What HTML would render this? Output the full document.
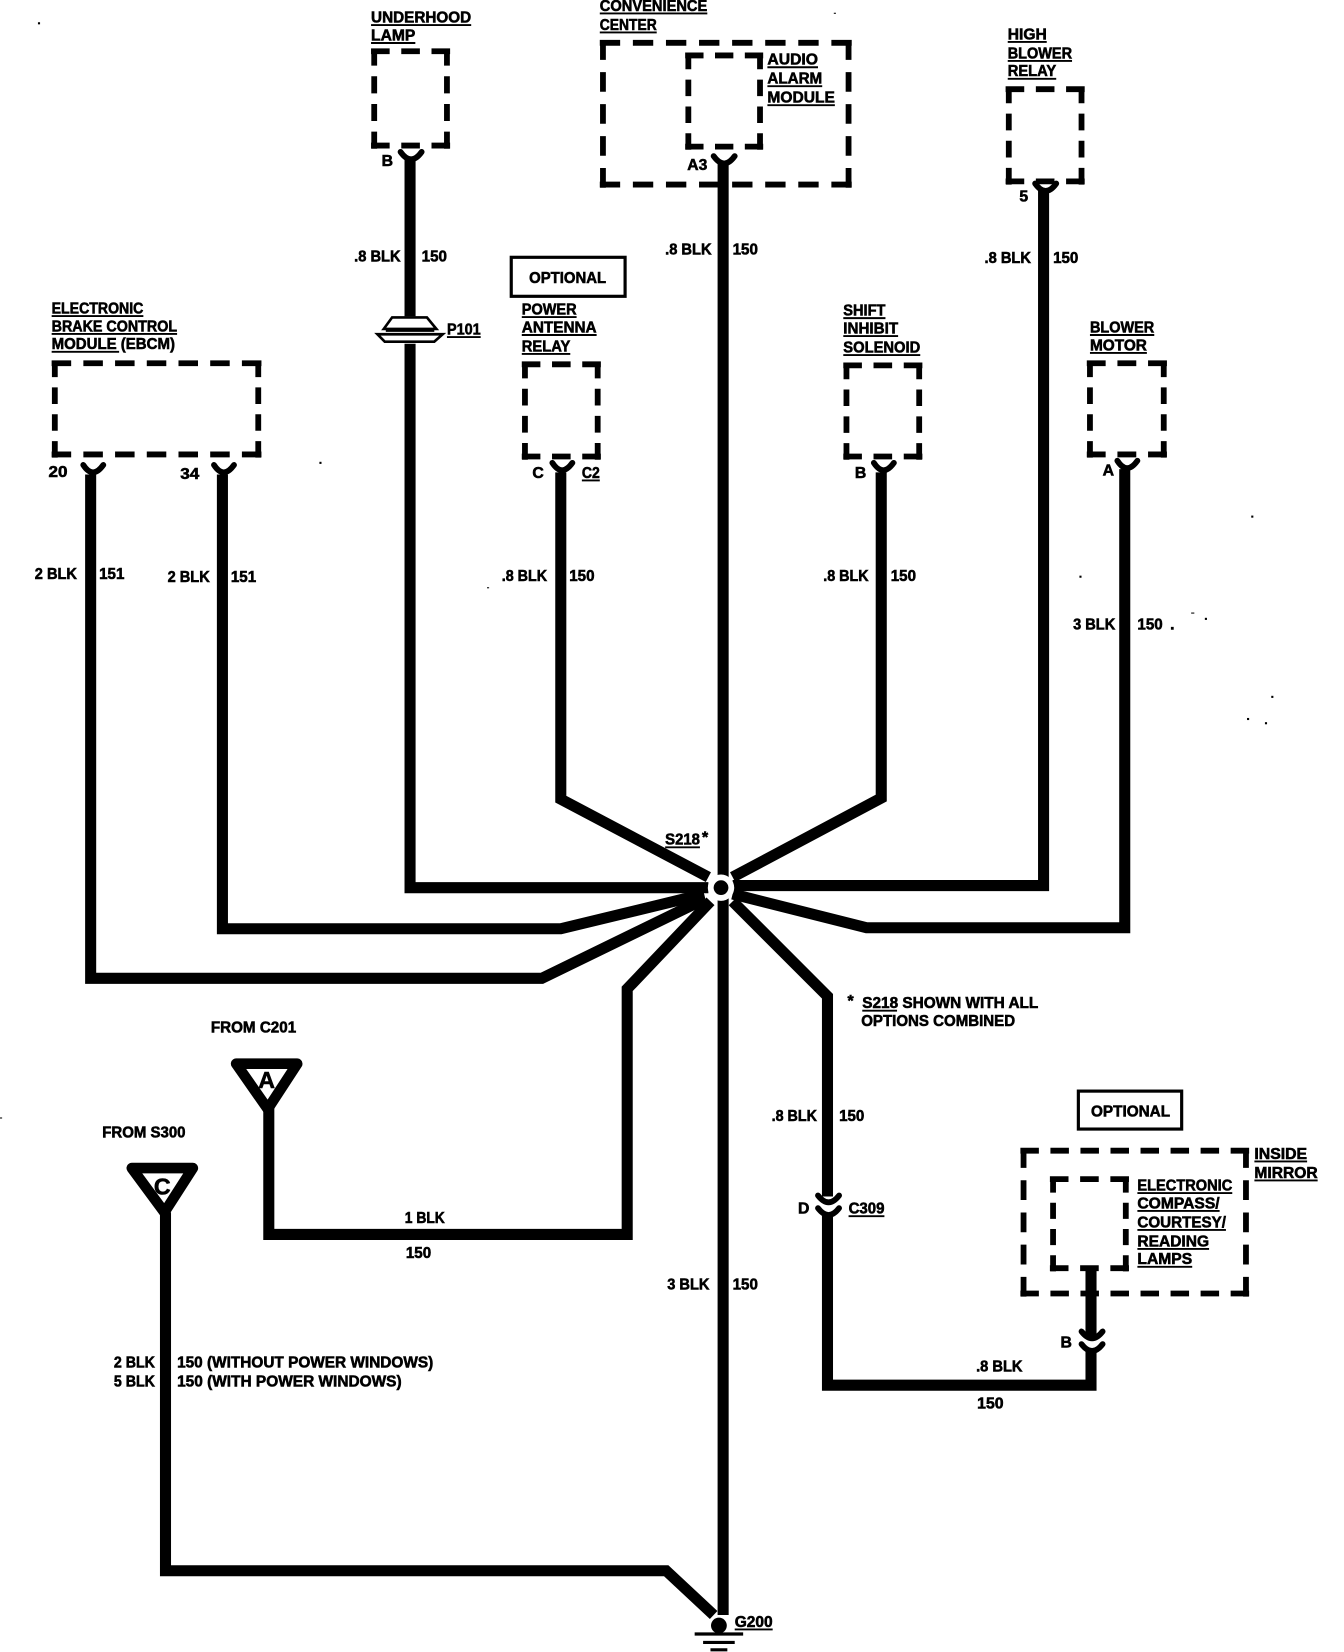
<!DOCTYPE html>
<html><head><meta charset="utf-8"><title>Ground distribution diagram</title>
<style>
html,body{margin:0;padding:0;background:#fff;width:1344px;height:1652px;overflow:hidden}
svg{display:block}
text{font-family:"Liberation Sans",sans-serif;font-weight:bold;font-size:15px;fill:#000;stroke:#000;stroke-width:.55}
.w{fill:none;stroke:#000;stroke-width:10.5;stroke-linejoin:miter}
.c{fill:none;stroke:#000;stroke-width:5.5;stroke-linecap:round}
.d{fill:none;stroke:#000;stroke-width:5.5;stroke-dasharray:1.6 1}
.u{fill:none;stroke:#000;stroke-width:1.8}
</style></head><body>
<svg xmlns="http://www.w3.org/2000/svg" width="1344" height="1652" viewBox="0 0 1275 1567">
<rect width="1275" height="1567" fill="#fff"/>
<!-- wires -->
<path class="w" d="M389,150V842H672"/>
<path class="w" d="M686,155V1532"/>
<path class="w" d="M990,180V840H695"/>
<path class="w" d="M532,448V758L672,832"/>
<path class="w" d="M836,448V757L695,832"/>
<path class="w" d="M211,450V881H532L668,848"/>
<path class="w" d="M86,450V928H514L668,853"/>
<path class="w" d="M1067,445V880H822L695,848"/>
<path class="w" d="M255,1050V1171H595V938L674,855"/>
<path class="w" d="M695,855L785,945V1135"/>
<path class="w" d="M785,1150V1314H1035V1282"/>
<path class="w" d="M157,1150V1490H632L677,1532"/>
<path class="w" d="M1035,1205V1268"/>
<!-- S218 junction -->
<circle cx="684" cy="842" r="12.5" fill="#fff"/>
<circle cx="684" cy="842" r="7" fill="#000"/>
<!-- connector cups -->
<path class="c" d="M380,144Q390,158 400,144M677,148Q687,162 697,148M982,174Q992,188 1002,174M79,441Q88,455 98,441M203,441Q212,455 222,441M524,439Q533,453 543,439M829,439Q838,453 848,439M1060,437Q1069,451 1079,437"/>
<path class="c" d="M776,1134Q786,1147 796,1134M776,1146Q786,1159 796,1146M1026,1263Q1036,1276 1046,1263M1026,1275Q1036,1288 1046,1275"/>
<!-- dashed boxes -->
<g>
<line class="d" pathLength="6.8" x1="352" y1="48.500" x2="427" y2="48.500"/><line class="d" pathLength="6.8" x1="352" y1="138" x2="427" y2="138"/><line class="d" pathLength="9.4" x1="355" y1="46" x2="355" y2="141"/><line class="d" pathLength="9.4" x1="424" y1="46" x2="424" y2="141"/>
<line class="d" pathLength="19.8" x1="569" y1="40.500" x2="808" y2="40.500"/><line class="d" pathLength="19.8" x1="569" y1="175" x2="808" y2="175"/><line class="d" pathLength="12" x1="572" y1="38" x2="572" y2="178"/><line class="d" pathLength="12" x1="805" y1="38" x2="805" y2="178"/>
<line class="d" pathLength="6.8" x1="650" y1="52.500" x2="724" y2="52.500"/><line class="d" pathLength="6.8" x1="650" y1="139" x2="724" y2="139"/><line class="d" pathLength="9.4" x1="653" y1="50" x2="653" y2="142"/><line class="d" pathLength="9.4" x1="721" y1="50" x2="721" y2="142"/>
<line class="d" pathLength="6.8" x1="954" y1="84.500" x2="1029" y2="84.500"/><line class="d" pathLength="6.8" x1="954" y1="172" x2="1029" y2="172"/><line class="d" pathLength="9.4" x1="957" y1="82" x2="957" y2="175"/><line class="d" pathLength="9.4" x1="1026" y1="82" x2="1026" y2="175"/>
<line class="d" pathLength="17.2" x1="49" y1="344.500" x2="248" y2="344.500"/><line class="d" pathLength="17.2" x1="49" y1="431" x2="248" y2="431"/><line class="d" pathLength="9.4" x1="52" y1="342" x2="52" y2="434"/><line class="d" pathLength="9.4" x1="245" y1="342" x2="245" y2="434"/>
<line class="d" pathLength="6.8" x1="495" y1="345.500" x2="570" y2="345.500"/><line class="d" pathLength="6.8" x1="495" y1="433" x2="570" y2="433"/><line class="d" pathLength="9.4" x1="498" y1="343" x2="498" y2="436"/><line class="d" pathLength="9.4" x1="567" y1="343" x2="567" y2="436"/>
<line class="d" pathLength="6.8" x1="800" y1="346.500" x2="875" y2="346.500"/><line class="d" pathLength="6.8" x1="800" y1="433" x2="875" y2="433"/><line class="d" pathLength="9.4" x1="803" y1="344" x2="803" y2="436"/><line class="d" pathLength="9.4" x1="872" y1="344" x2="872" y2="436"/>
<line class="d" pathLength="6.8" x1="1031" y1="344.500" x2="1107" y2="344.500"/><line class="d" pathLength="6.8" x1="1031" y1="431" x2="1107" y2="431"/><line class="d" pathLength="9.4" x1="1034" y1="342" x2="1034" y2="434"/><line class="d" pathLength="9.4" x1="1104" y1="342" x2="1104" y2="434"/>
<line class="d" pathLength="19.8" x1="968" y1="1091.500" x2="1185" y2="1091.500"/><line class="d" pathLength="19.8" x1="968" y1="1227" x2="1185" y2="1227"/><line class="d" pathLength="12" x1="971" y1="1089" x2="971" y2="1230"/><line class="d" pathLength="12" x1="1182" y1="1089" x2="1182" y2="1230"/>
<line class="d" pathLength="6.8" x1="996" y1="1118.500" x2="1071" y2="1118.500"/><line class="d" pathLength="6.8" x1="996" y1="1203" x2="1071" y2="1203"/><line class="d" pathLength="9.4" x1="999" y1="1116" x2="999" y2="1206"/><line class="d" pathLength="9.4" x1="1068" y1="1116" x2="1068" y2="1206"/>
</g>
<!-- optional boxes -->
<rect x="485" y="244" width="108" height="37" fill="none" stroke="#000" stroke-width="3"/>
<rect x="1023" y="1035" width="98" height="36" fill="none" stroke="#000" stroke-width="3"/>
<!-- P101 -->
<rect x="355" y="300" width="68" height="26" fill="#fff"/>
<path d="M364,312L372,301H405L414,312Z" fill="#fff" stroke="#000" stroke-width="2.5"/>
<path d="M358,317H420L412,324H365Z" fill="#fff" stroke="#000" stroke-width="2.5"/>
<path d="M366,313.500H412" stroke="#000" stroke-width="2.5" fill="none"/>
<!-- triangles -->
<path d="M224,1009H282L254,1052Z" fill="#fff" stroke="#000" stroke-width="10" stroke-linejoin="round"/>
<path d="M125,1108H183L156,1150Z" fill="#fff" stroke="#000" stroke-width="10" stroke-linejoin="round"/>
<!-- ground -->
<circle cx="682" cy="1543" r="10" fill="#fff"/>
<circle cx="682" cy="1542" r="7.500" fill="#000"/>
<path d="M659,1550H705M667,1558H697M674,1565H690" stroke="#000" stroke-width="3" fill="none"/>
<g transform="translate(0,-0.8)">
<!-- underlines -->
<path class="u" d="M352,24.500h95M352,41.500h42M569,13.500h102M569,31.500h54M728,64.500h48M728,82.500h52M728,100.500h64M956,40.500h37M956,58.500h61M956,75.500h46M49,300.500h87M49,317.500h119M49,334.500h64M495,301.500h52M495,318.500h71M495,336.500h46M800,302.500h40M800,319.500h52M800,337.500h73M1034,318.500h61M1034,335.500h54M552,456.500h17M424,320.500h32M631,804.500h33M818,959.500h33M805,1154.500h34M1190,1102.500h50M1190,1120.500h60M1079,1132.500h90M1079,1149.500h78M1079,1167.500h84M1079,1185.500h68M1079,1202.500h52M697,1546.500h36"/>
<!-- labels -->
<text x="352" y="22" textLength="95" lengthAdjust="spacingAndGlyphs">UNDERHOOD</text>
<text x="352" y="39" textLength="42" lengthAdjust="spacingAndGlyphs">LAMP</text>
<text x="569" y="11" textLength="102" lengthAdjust="spacingAndGlyphs">CONVENIENCE</text>
<text x="569" y="29" textLength="54" lengthAdjust="spacingAndGlyphs">CENTER</text>
<text x="728" y="62" textLength="48" lengthAdjust="spacingAndGlyphs">AUDIO</text>
<text x="728" y="80" textLength="52" lengthAdjust="spacingAndGlyphs">ALARM</text>
<text x="728" y="98" textLength="64" lengthAdjust="spacingAndGlyphs">MODULE</text>
<text x="956" y="38" textLength="37" lengthAdjust="spacingAndGlyphs">HIGH</text>
<text x="956" y="56" textLength="61" lengthAdjust="spacingAndGlyphs">BLOWER</text>
<text x="956" y="73" textLength="46" lengthAdjust="spacingAndGlyphs">RELAY</text>
<text x="49" y="298" textLength="87" lengthAdjust="spacingAndGlyphs">ELECTRONIC</text>
<text x="49" y="315" textLength="119" lengthAdjust="spacingAndGlyphs">BRAKE CONTROL</text>
<text x="49" y="332" textLength="117" lengthAdjust="spacingAndGlyphs">MODULE (EBCM)</text>
<text x="502" y="269" textLength="73" lengthAdjust="spacingAndGlyphs">OPTIONAL</text>
<text x="495" y="299" textLength="52" lengthAdjust="spacingAndGlyphs">POWER</text>
<text x="495" y="316" textLength="71" lengthAdjust="spacingAndGlyphs">ANTENNA</text>
<text x="495" y="334" textLength="46" lengthAdjust="spacingAndGlyphs">RELAY</text>
<text x="800" y="300" textLength="40" lengthAdjust="spacingAndGlyphs">SHIFT</text>
<text x="800" y="317" textLength="52" lengthAdjust="spacingAndGlyphs">INHIBIT</text>
<text x="800" y="335" textLength="73" lengthAdjust="spacingAndGlyphs">SOLENOID</text>
<text x="1034" y="316" textLength="61" lengthAdjust="spacingAndGlyphs">BLOWER</text>
<text x="1034" y="333" textLength="54" lengthAdjust="spacingAndGlyphs">MOTOR</text>
<text x="362" y="158">B</text>
<text x="652" y="162" textLength="19" lengthAdjust="spacingAndGlyphs">A3</text>
<text x="967" y="192">5</text>
<text x="46" y="453" textLength="18" lengthAdjust="spacingAndGlyphs">20</text>
<text x="171" y="455" textLength="18" lengthAdjust="spacingAndGlyphs">34</text>
<text x="505" y="454">C</text>
<text x="552" y="454" textLength="17" lengthAdjust="spacingAndGlyphs">C2</text>
<text x="811" y="454">B</text>
<text x="1046" y="452">A</text>
<text x="336" y="249" textLength="44" lengthAdjust="spacingAndGlyphs">.8 BLK</text>
<text x="400" y="249" textLength="24" lengthAdjust="spacingAndGlyphs">150</text>
<text x="631" y="242" textLength="44" lengthAdjust="spacingAndGlyphs">.8 BLK</text>
<text x="695" y="242" textLength="24" lengthAdjust="spacingAndGlyphs">150</text>
<text x="934" y="250" textLength="44" lengthAdjust="spacingAndGlyphs">.8 BLK</text>
<text x="999" y="250" textLength="24" lengthAdjust="spacingAndGlyphs">150</text>
<text x="424" y="318" textLength="32" lengthAdjust="spacingAndGlyphs">P101</text>
<text x="33" y="550" textLength="40" lengthAdjust="spacingAndGlyphs">2 BLK</text>
<text x="94" y="550" textLength="24" lengthAdjust="spacingAndGlyphs">151</text>
<text x="159" y="553" textLength="40" lengthAdjust="spacingAndGlyphs">2 BLK</text>
<text x="219" y="553" textLength="24" lengthAdjust="spacingAndGlyphs">151</text>
<text x="476" y="552" textLength="43" lengthAdjust="spacingAndGlyphs">.8 BLK</text>
<text x="540" y="552" textLength="24" lengthAdjust="spacingAndGlyphs">150</text>
<text x="781" y="552" textLength="43" lengthAdjust="spacingAndGlyphs">.8 BLK</text>
<text x="845" y="552" textLength="24" lengthAdjust="spacingAndGlyphs">150</text>
<text x="1018" y="598" textLength="40" lengthAdjust="spacingAndGlyphs">3 BLK</text>
<text x="1079" y="598" textLength="24" lengthAdjust="spacingAndGlyphs">150</text>
<text x="1110" y="598">.</text>
<text x="631" y="802" textLength="33" lengthAdjust="spacingAndGlyphs">S218</text>
<text x="666" y="800">*</text>
<text x="804" y="955">*</text>
<text x="818" y="957" textLength="167" lengthAdjust="spacingAndGlyphs">S218 SHOWN WITH ALL</text>
<text x="817" y="974" textLength="146" lengthAdjust="spacingAndGlyphs">OPTIONS COMBINED</text>
<text x="200" y="980" textLength="81" lengthAdjust="spacingAndGlyphs">FROM C201</text>
<text x="97" y="1080" textLength="79" lengthAdjust="spacingAndGlyphs">FROM S300</text>
<text x="245" y="1033" style="font-size:22px">A</text>
<text x="146" y="1134" style="font-size:22px">C</text>
<text x="384" y="1161" textLength="38" lengthAdjust="spacingAndGlyphs">1 BLK</text>
<text x="385" y="1194" textLength="24" lengthAdjust="spacingAndGlyphs">150</text>
<text x="732" y="1064" textLength="43" lengthAdjust="spacingAndGlyphs">.8 BLK</text>
<text x="796" y="1064" textLength="24" lengthAdjust="spacingAndGlyphs">150</text>
<text x="757" y="1152">D</text>
<text x="805" y="1152" textLength="34" lengthAdjust="spacingAndGlyphs">C309</text>
<text x="1035" y="1060" textLength="75" lengthAdjust="spacingAndGlyphs">OPTIONAL</text>
<text x="1190" y="1100" textLength="50" lengthAdjust="spacingAndGlyphs">INSIDE</text>
<text x="1190" y="1118" textLength="60" lengthAdjust="spacingAndGlyphs">MIRROR</text>
<text x="1079" y="1130" textLength="90" lengthAdjust="spacingAndGlyphs">ELECTRONIC</text>
<text x="1079" y="1147" textLength="78" lengthAdjust="spacingAndGlyphs">COMPASS/</text>
<text x="1079" y="1165" textLength="84" lengthAdjust="spacingAndGlyphs">COURTESY/</text>
<text x="1079" y="1183" textLength="68" lengthAdjust="spacingAndGlyphs">READING</text>
<text x="1079" y="1200" textLength="52" lengthAdjust="spacingAndGlyphs">LAMPS</text>
<text x="633" y="1224" textLength="40" lengthAdjust="spacingAndGlyphs">3 BLK</text>
<text x="695" y="1224" textLength="24" lengthAdjust="spacingAndGlyphs">150</text>
<text x="108" y="1298" textLength="39" lengthAdjust="spacingAndGlyphs">2 BLK</text>
<text x="168" y="1298" textLength="243" lengthAdjust="spacingAndGlyphs">150 (WITHOUT POWER WINDOWS)</text>
<text x="108" y="1316" textLength="39" lengthAdjust="spacingAndGlyphs">5 BLK</text>
<text x="168" y="1316" textLength="213" lengthAdjust="spacingAndGlyphs">150 (WITH POWER WINDOWS)</text>
<text x="926" y="1302" textLength="44" lengthAdjust="spacingAndGlyphs">.8 BLK</text>
<text x="927" y="1337" textLength="25" lengthAdjust="spacingAndGlyphs">150</text>
<text x="1006" y="1279">B</text>
<text x="697" y="1544" textLength="36" lengthAdjust="spacingAndGlyphs">G200</text>
</g>
<!-- specks -->
<g fill="#000">
<rect x="36" y="21" width="2" height="2"/><rect x="791" y="12" width="2" height="1"/><rect x="1130" y="581" width="3" height="1"/><rect x="1143" y="586" width="2" height="2"/><rect x="1183" y="681" width="2" height="2"/><rect x="1200" y="685" width="2" height="2"/><rect x="1206" y="660" width="2" height="2"/><rect x="303" y="438" width="2" height="2"/><rect x="1024" y="546" width="2" height="2"/><rect x="1187" y="489" width="2" height="2"/><rect x="462" y="557" width="2" height="1"/><rect x="0" y="1060" width="2" height="1"/>
</g>
</svg>
</body></html>
